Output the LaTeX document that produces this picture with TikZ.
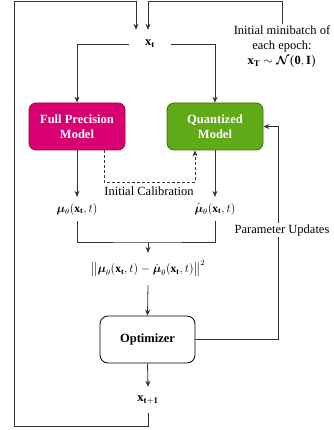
\documentclass[tikz,border=0pt]{standalone}
\usepackage{amsmath}
\usepackage{fontspec}
\setmainfont{Liberation Serif}
\usetikzlibrary{arrows.meta}
\definecolor{fpfill}{HTML}{D80073}
\definecolor{fpdraw}{HTML}{A50040}
\definecolor{qfill}{HTML}{60A917}
\definecolor{qdraw}{HTML}{2D7600}
\begin{document}
\begin{tikzpicture}[x=1pt,y=-1pt,
  every node/.style={font=\fontsize{12.5}{15}\selectfont},
  line/.style={draw=black!80,line width=0.8pt},
  tip/.style={-{Stealth[length=6pt,width=5pt]}},
  arr/.style={line,tip},
  model/.style={rounded corners=7pt,minimum width=96pt,minimum height=47pt,align=center,text=white,font=\fontsize{12.5}{15}\selectfont\bfseries,line width=0.8pt},
  mlabel/.style={inner sep=0pt,minimum height=24pt,font=\fontsize{11.5}{14}\selectfont}
]
\useasboundingbox (0,0) rectangle (333,430);
\node[minimum width=42pt,minimum height=28pt,inner sep=0pt] (xt) at (150,44) {$\mathbf{x_t}$};
\node[model,fill=fpfill,draw=fpdraw] (fp) at (77,126.5) {Full Precision\\Model};
\node[model,fill=qfill,draw=qdraw] (q) at (215,126.5) {Quantized\\Model};
\node[mlabel] (mufp) at (77,209) {$\boldsymbol{\mu}_\theta(\mathbf{x_t},t)$};
\node[mlabel] (muq) at (215,209) {$\hat{\boldsymbol{\mu}}_\theta(\mathbf{x_t},t)$};
\node[inner sep=0pt,minimum height=32pt,font=\fontsize{11.5}{14}\selectfont] (norm) at (148,269) {$\big\|\boldsymbol{\mu}_\theta(\mathbf{x_t},t)-\hat{\boldsymbol{\mu}}_\theta(\mathbf{x_t},t)\big\|^2$};
\node[draw=black,line width=0.8pt,rounded corners=8pt,minimum width=95pt,minimum height=47pt,font=\fontsize{12.5}{15}\selectfont\bfseries] (opt) at (147.5,339.5) {Optimizer};
\node[inner sep=0pt,minimum height=26pt] (xt1) at (148,400) {$\mathbf{x_{t+1}}$};
\node[anchor=north,align=center,inner sep=2pt] (init) at (282,24) {Initial minibatch of\\each epoch:\\$\mathbf{x_T}\sim\boldsymbol{\mathcal{N}}\boldsymbol{(}\mathbf{0},\mathbf{I}\boldsymbol{)}$};
\coordinate (top) at (148,1.5);
\coordinate (cal) at (150,182);
\coordinate (merge) at (148,242);
% connectors
\draw[arr] (xt1.south) -- (148,426) -| (14,1.5) -| ([xshift=-14pt]xt.north);
\draw[arr] (init.north) |- (top) -- ([xshift=-2pt]xt.north);
\draw[arr] (xt.west) -| (fp.north);
\draw[arr] (xt.east) -| (q.north);
\draw[arr] (fp.south) -- (mufp.north);
\draw[arr] (q.south) -- (muq.north);
\draw[line,tip,dash pattern=on 2.5pt off 2.5pt,line width=0.6pt] ([xshift=27pt]fp.south) |- (cal) -| ([xshift=-20pt]q.south);
\node (calib) at (149,191) {Initial Calibration};
\draw[line] (mufp.south) |- (merge) -| (muq.south);
\draw[arr] (merge) -- (norm.north);
\draw[arr] (norm.south) -- (opt.north);
\draw[arr] (opt.south) -- (xt1.north);
\draw[arr] (opt.east) -| ([xshift=15pt]q.east) -- (q.east);
\node[fill=white,inner sep=1pt] (pu) at (282,230) {Parameter Updates};
\end{tikzpicture}
\end{document}
